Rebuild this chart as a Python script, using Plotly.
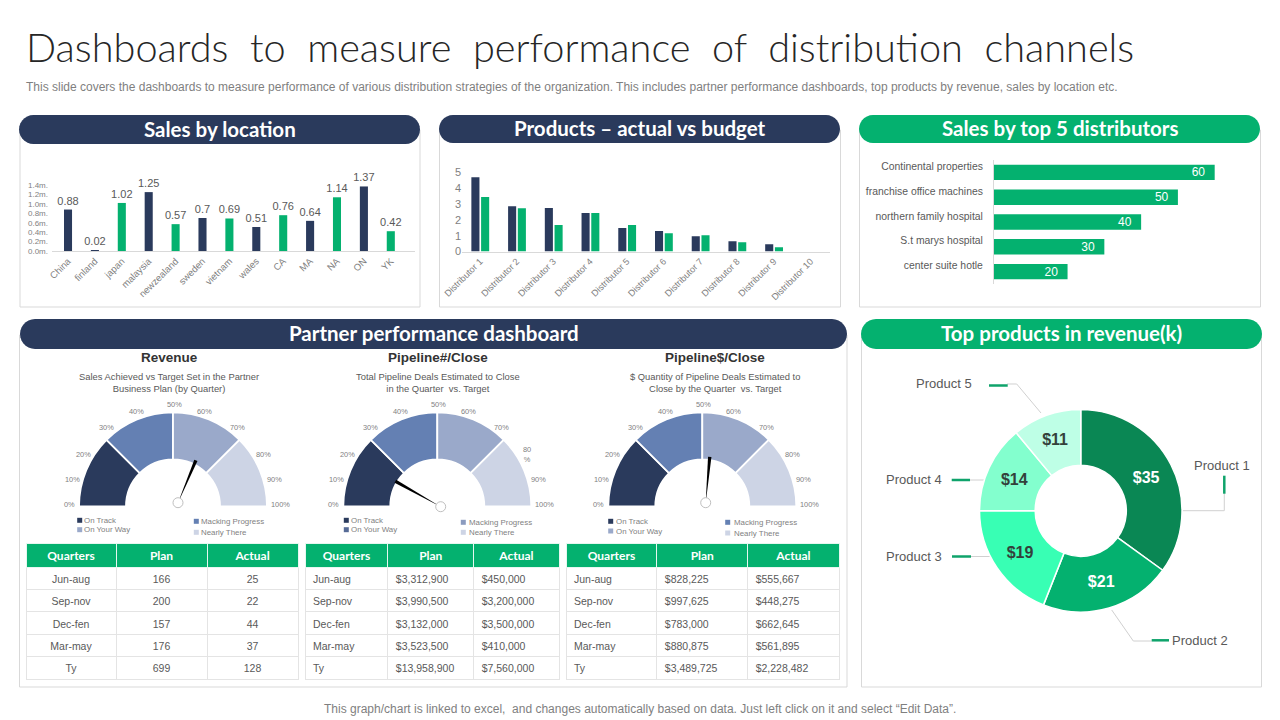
import math
import plotly.graph_objects as go

W, H = 1280, 720
NAVY = "#2A3A5C"
GREEN = "#04B16F"
GREY = "#7F7F7F"
TXT = "#595959"
BORDER = "#D9D9D9"
FONT = "Liberation Sans, Arial, sans-serif"
HEADFONT = "Lato, Noto Sans, sans-serif"

# ---------- data ----------
loc_names = ["China", "finland", "japan", "malaysia", "newzealand", "sweden", "vietnam",
             "wales", "CA", "MA", "NA", "ON", "YK"]
loc_values = [0.88, 0.02, 1.02, 1.25, 0.57, 0.7, 0.69, 0.51, 0.76, 0.64, 1.14, 1.37, 0.42]
loc_colors = [NAVY, NAVY, GREEN, NAVY, GREEN, NAVY, GREEN, NAVY, GREEN, NAVY, GREEN, NAVY, GREEN]
loc_ticks = [0, 0.2, 0.4, 0.6, 0.8, 1.0, 1.2, 1.4]
loc_ticktext = ["0.0m.", "0.2m.", "0.4m.", "0.6m.", "0.8m.", "1.0m.", "1.2m.", "1.4m."]

dist_names = ["Distributor %d" % i for i in range(1, 11)]
dist_actual = [4.7, 2.87, 2.75, 2.43, 1.48, 1.29, 0.97, 0.65, 0.46, 0]
dist_budget = [3.45, 2.74, 1.67, 2.43, 1.67, 1.16, 1.03, 0.59, 0.27, 0]

top_names = ["Continental properties", "franchise office machines", "northern family hospital",
             "S.t marys hospital", "center suite hotle"]
top_values = [60, 50, 40, 30, 20]

prod_names = ["Product 1", "Product 2", "Product 3", "Product 4", "Product 5"]
prod_values = [35, 21, 19, 14, 11]
prod_colors = ["#0A8754", "#04B16F", "#38FFB4", "#83FFCE", "#BEFFE6"]
prod_textcolors = ["white", "white", "#33413B", "#33413B", "#33413B"]

gauge_segments = [25, 25, 25, 25, 100]
gauge_colors = ["#2A3A5C", "#6480B3", "#9AA9CA", "#CDD4E5", "rgba(0,0,0,0)"]
gauge_titles = ["Revenue", "Pipeline#/Close", "Pipeline$/Close"]
gauge_subs = ["Sales Achieved vs Target Set in the Partner<br>Business Plan (by Quarter)",
              "Total Pipeline Deals Estimated to Close<br>in the Quarter  vs. Target",
              "$ Quantity of Pipeline Deals Estimated to<br>Close by the Quarter  vs. Target"]
gauge_needles = [62.7, 16.3, 52.8]
pct_labels = ["0%", "10%", "20%", "30%", "40%", "50%", "60%", "70%", "80%", "90%", "100%"]

tbl_head = ["Quarters", "Plan", "Actual"]
tbl_quarters = ["Jun-aug", "Sep-nov", "Dec-fen", "Mar-may", "Ty"]
t1_plan = ["166", "200", "157", "176", "699"]
t1_actual = ["25", "22", "44", "37", "128"]
t2_plan = ["$3,312,900", "$3,990,500", "$3,132,000", "$3,523,500", "$13,958,900"]
t2_actual = ["$450,000", "$3,200,000", "$3,500,000", "$410,000", "$7,560,000"]
t3_plan = ["$828,225", "$997,625", "$783,000", "$880,875", "$3,489,725"]
t3_actual = ["$555,667", "$448,275", "$662,645", "$561,895", "$2,228,482"]

# ---------- helpers (pixel layout -> paper fractions) ----------
def dx(a, b): return [a / W, b / W]
def dy(top, bottom): return [1 - bottom / H, 1 - top / H]
def X(x): return x / W
def Y(y): return 1 - y / H

shapes, annos = [], []

def text(x, y, s, size=10, color=TXT, anchor="center", bold=False, font=FONT, valign="middle"):
    annos.append(dict(xref="paper", yref="paper", x=X(x), y=Y(y), text=("<b>%s</b>" % s) if bold else s,
                      showarrow=False, xanchor=anchor, yanchor=valign, align=anchor,
                      font=dict(size=size, color=color, family=font), borderpad=0, borderwidth=0))

def rect(x0, y0, x1, y1, fill=None, line=None, lw=1, layer="below"):
    shapes.append(dict(type="rect", xref="paper", yref="paper", x0=X(x0), x1=X(x1), y0=Y(y0), y1=Y(y1),
                       fillcolor=fill or "rgba(0,0,0,0)", line=dict(color=line or "rgba(0,0,0,0)", width=lw if line else 0),
                       layer=layer))

def seg(pts, color="#D0D0D0", lw=1, layer="below"):
    d = "M " + " L ".join("%.5f,%.5f" % (X(a), Y(b)) for a, b in pts)
    shapes.append(dict(type="path", xref="paper", yref="paper", path=d, line=dict(color=color, width=lw), layer=layer))

def pill(x0, y0, x1, y1, fill, title):
    r = (y1 - y0) / 2
    n = 14
    pts = []
    for i in range(n + 1):
        a = -math.pi / 2 + math.pi * i / n
        pts.append((x1 - r + r * math.cos(a), (y0 + y1) / 2 + r * math.sin(a)))
    for i in range(n + 1):
        a = math.pi / 2 + math.pi * i / n
        pts.append((x0 + r + r * math.cos(a), (y0 + y1) / 2 + r * math.sin(a)))
    d = "M " + " L ".join("%.5f,%.5f" % (X(a), Y(b)) for a, b in pts) + " Z"
    shapes.append(dict(type="path", xref="paper", yref="paper", path=d, fillcolor=fill, line=dict(width=0), layer="below"))
    text((x0 + x1) / 2, (y0 + y1) / 2 - 1, title, size=20.5, color="white", bold=True, font=HEADFONT)

fig = go.Figure()

# ---------- title ----------
text(26, 46, "Dashboards  to  measure  performance  of  distribution  channels", size=39.7, color="#262626",
     anchor="left", font="Lato Light, Lato, sans-serif")
text(26, 86.5, "This slide covers the dashboards to measure performance of various distribution strategies of the organization. "
     "This includes partner performance dashboards, top products by revenue, sales by location etc.",
     size=12, color=GREY, anchor="left")
text(640, 708.5, "This graph/chart is linked to excel,  and changes automatically based on data. Just left click on it and select \u201cEdit Data\u201d.",
     size=12, color=GREY)

# ---------- panels ----------
rect(20, 130, 420, 307, fill="white", line=BORDER)
rect(439.5, 130, 840.5, 307, fill="white", line=BORDER)
rect(859.5, 130, 1260.5, 307, fill="white", line=BORDER)
rect(19.5, 335, 847, 687, fill="white", line=BORDER)
rect(861.5, 335, 1261.5, 687, fill="white", line=BORDER)
pill(19, 115, 420, 144, NAVY, "Sales by location")
pill(439, 115, 840, 143, NAVY, "Products \u2013 actual vs budget")
pill(859, 115, 1260, 143, GREEN, "Sales by top 5 distributors")
pill(20, 319, 847, 349, NAVY, "Partner performance dashboard")
pill(861, 319, 1262, 349, GREEN, "Top products in revenue(k)")

# ---------- sales by location ----------
fig.add_trace(go.Bar(x=loc_names, y=loc_values, marker=dict(color=loc_colors, line=dict(width=0)),
                     text=loc_values, textposition="outside", cliponaxis=False, constraintext="none",
                     textfont=dict(size=11, color=TXT, family=FONT), texttemplate="%{y}", width=0.3,
                     xaxis="x", yaxis="y", hoverinfo="skip", showlegend=False))
# ---------- actual vs budget ----------
fig.add_trace(go.Bar(x=dist_names, y=dist_actual, marker=dict(color=NAVY, line=dict(width=0)), width=0.22, offset=-0.235,
                     name="Actual", xaxis="x2", yaxis="y2", hoverinfo="skip", showlegend=False))
fig.add_trace(go.Bar(x=dist_names, y=dist_budget, marker=dict(color=GREEN, line=dict(width=0)), width=0.22, offset=0.03,
                     name="Budget", xaxis="x2", yaxis="y2", hoverinfo="skip", showlegend=False))
# ---------- top distributors ----------
fig.add_trace(go.Bar(y=top_names, x=top_values, orientation="h", marker=dict(color=GREEN, line=dict(width=0)), width=0.62,
                     texttemplate="%{x}\u00a0\u00a0", textposition="inside", insidetextanchor="end", constraintext="none",
                     textfont=dict(size=12, color="white", family=FONT), textangle=0,
                     xaxis="x3", yaxis="y3", hoverinfo="skip", showlegend=False))

# ---------- donut ----------
fig.add_trace(go.Pie(values=prod_values, labels=prod_names, sort=False, direction="clockwise", rotation=0,
                     hole=0.45, domain=dict(x=dx(979.5, 1182), y=dy(409.5, 612)),
                     marker=dict(colors=prod_colors, line=dict(color="white", width=1.5)),
                     text=["$%d" % v for v in prod_values], textinfo="text", textposition="inside",
                     insidetextorientation="horizontal",
                     insidetextfont=dict(size=16, color=prod_textcolors, family=FONT, weight="bold"),
                     hoverinfo="skip", showlegend=False))

seg([(1016.7, 384), (1041, 413)]); seg([(1007, 384), (1016.7, 384)])
seg([(970, 480), (984, 480)])
seg([(971, 556.5), (995, 556.5)])
seg([(1151.7, 641), (1133.3, 641), (1111.7, 610)])
seg([(1224.3, 493), (1224.3, 510.7), (1182.7, 510.7)])
for pts in [[(989, 385.5), (1007.7, 385.5)], [(951.7, 480), (970, 480)], [(952, 556.5), (971, 556.5)],
            [(1151.7, 640.3), (1169, 640.3)], [(1224.3, 475.7), (1224.3, 493.7)]]:
    seg(pts, color="#0FA36B", lw=2.5)
text(971.7, 383, prod_names[4], 13, TXT, "right")
text(942, 479, prod_names[3], 13, TXT, "right")
text(941.7, 556.3, prod_names[2], 13, TXT, "right")
text(1172.3, 640, prod_names[1], 13, TXT, "left")
text(1222, 465, prod_names[0], 13, TXT, "center")

# ---------- gauges ----------
gauge_cx = [173, 437.3, 702.3]
gauge_cy = 506.3
gauge_r = 94
title_cx = [169, 437.5, 715]
label_dx = [-104, -101, -90, -67, -37, 1, 31, 64, 90, 101, 107]
label_y = [505, 479, 454, 427, 411, 404, 411, 427, 454, 479, 505]
hub_off = [(5, -3.6), (3.4, 0.4), (3.4, -3.6)]
needle_len = [46, 52, 46]
legend_pos = [
    [(79.7, 84.3, 520.3, "On Track", "#2A3A5C"), (79.7, 84.3, 529.7, "On Your Way", "#9AA9CA"),
     (196.3, 201, 521.3, "Macking Progress", "#6480B3"), (196.3, 201, 532.3, "Nearly There", "#CDD4E5")],
    [(346.3, 351, 520.3, "On Track", "#2A3A5C"), (346.3, 351, 529.7, "On Your Way", "#566B96"),
     (463.3, 469, 522.3, "Macking Progress", "#8B9BBF"), (463.3, 469, 532.3, "Nearly There", "#CDD4E5")],
    [(610.7, 616, 521.3, "On Track", "#2A3A5C"), (610.7, 616, 531, "On Your Way", "#9AA9CA"),
     (727.7, 734, 522.3, "Macking Progress", "#6480B3"), (727.7, 734, 533, "Nearly There", "#CDD4E5")],
]
for i, cx in enumerate(gauge_cx):
    fig.add_trace(go.Pie(values=gauge_segments, sort=False, direction="clockwise", rotation=-90, hole=0.5,
                         domain=dict(x=dx(cx - gauge_r, cx + gauge_r), y=dy(gauge_cy - gauge_r, gauge_cy + gauge_r)),
                         marker=dict(colors=gauge_colors, line=dict(color="white", width=[1.8, 1.8, 1.8, 1.8, 0])),
                         textinfo="none", hoverinfo="skip", showlegend=False))
    text(title_cx[i], 357.5, gauge_titles[i], 13.5, "#333333", bold=True)
    text(title_cx[i], 382.5, gauge_subs[i], 9.4, TXT)
    for j, lab in enumerate(pct_labels):
        s = lab
        if i == 1 and lab == "80%":
            s = "80<br>%"
        text(cx + label_dx[j], label_y[j], s, 7.4, GREY)
    # needle: angle follows the percentage on the gauge
    hx, hy = cx + hub_off[i][0], gauge_cy + hub_off[i][1]
    ang = math.pi * gauge_needles[i] / 100
    ux, uy = -math.cos(ang), -math.sin(ang)
    px, py = -uy, ux
    tx, ty = hx + ux * needle_len[i], hy + uy * needle_len[i]
    pts = [(hx, hy), (tx + px * 1.7, ty + py * 1.7), (tx - px * 1.7, ty - py * 1.7)]
    d = "M " + " L ".join("%.5f,%.5f" % (X(a), Y(b)) for a, b in pts) + " Z"
    shapes.append(dict(type="path", xref="paper", yref="paper", path=d, fillcolor="#000000", line=dict(width=0), layer="above"))
    shapes.append(dict(type="circle", xref="paper", yref="paper", x0=X(hx - 5), x1=X(hx + 5), y0=Y(hy + 5), y1=Y(hy - 5),
                       fillcolor="white", line=dict(color="#BFBFBF", width=1), layer="above"))
    for sx, tx2, ly, lab, col in legend_pos[i]:
        rect(sx - 2.5, ly - 2.5, sx + 2.5, ly + 2.5, fill=col, layer="above")
        text(tx2, ly, lab, 7.9, GREY, "left")

# ---------- tables ----------
def table(x0, x1, plan, actual, col_w, first_align, other_align):
    fig.add_trace(go.Table(
        domain=dict(x=dx(x0, x1), y=dy(543, 690)),
        columnwidth=col_w,
        header=dict(values=tbl_head, height=24, fill_color=GREEN, align="center",
                    line=dict(color="#E6F7F0", width=1),
                    font=dict(size=12, color="white", family=HEADFONT, weight="bold")),
        cells=dict(values=[tbl_quarters, plan, actual], height=22.4, fill_color="white",
                   align=[first_align, other_align, other_align],
                   line=dict(color="#E4E4E4", width=1),
                   font=dict(size=10.5, color=TXT, family=FONT))))

table(26, 298, t1_plan, t1_actual, [90, 91, 91], "center", "center")
table(305, 559.5, t2_plan, t2_actual, [83, 86, 85.5], "left", "left")
table(566, 839.5, t3_plan, t3_actual, [91, 91, 91.5], "left", "left")

# ---------- layout ----------
fig.update_layout(
    width=W, height=H, margin=dict(l=0, r=0, t=0, b=0, autoexpand=False), paper_bgcolor="white", plot_bgcolor="rgba(0,0,0,0)",
    barmode="group", bargap=0.7, showlegend=False, shapes=shapes, annotations=annos, font=dict(family=FONT),
    xaxis=dict(domain=dx(52, 415), anchor="y", type="category", range=[-0.595, 12.9], tickangle=-45, showgrid=False, automargin=False,
               showline=True, linecolor=BORDER, linewidth=1, ticks="", tickfont=dict(size=9.5, color=GREY, family=FONT)),
    yaxis=dict(domain=dy(145, 251), anchor="x", range=[0, 2.25], tickvals=loc_ticks, ticktext=loc_ticktext, showgrid=False, automargin=False,
               zeroline=False, showline=False, ticks="", ticklabelstandoff=3, tickfont=dict(size=8, color=GREY, family=FONT)),
    xaxis2=dict(domain=dx(462, 830), anchor="y2", type="category", range=[-0.49, 9.53], tickangle=-45, showgrid=False, automargin=False,
                showline=True, linecolor=BORDER, linewidth=1, ticks="", tickfont=dict(size=9.2, color=GREY, family=FONT)),
    yaxis2=dict(domain=dy(160, 251.5), anchor="x2", range=[0, 5.79], tickvals=[0, 1, 2, 3, 4, 5], showgrid=False, automargin=False,
                zeroline=False, showline=False, ticks="", tickfont=dict(size=11, color=GREY, family=FONT)),
    xaxis3=dict(domain=dx(994, 1250), anchor="y3", range=[0, 69.6], visible=False, automargin=False),
    yaxis3=dict(domain=dy(160, 284), anchor="x3", type="category", autorange="reversed", showgrid=False, showline=True, automargin=False,
                linecolor=BORDER, linewidth=1, ticks="", ticklabelstandoff=8, ticklabelshift=6,
                tickfont=dict(size=10.4, color=TXT, family=FONT)),
)

fig.write_html("out.html", config=dict(displayModeBar=False),
               post_script='document.body.style.margin="0";document.body.style.overflow="hidden";')
